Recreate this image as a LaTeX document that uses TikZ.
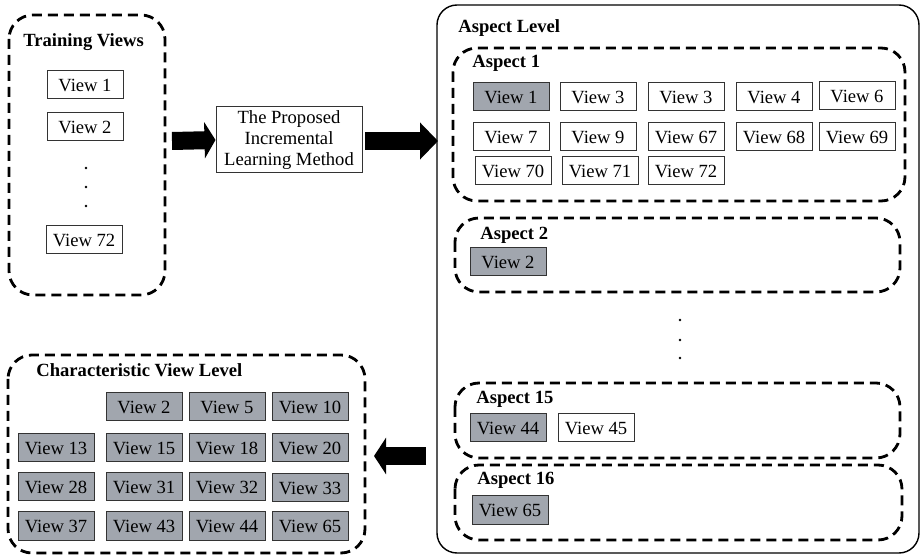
\documentclass[tikz,border=0pt]{standalone}
\usepackage{fontspec}
\setmainfont{Liberation Serif}
\usetikzlibrary{arrows.meta}
\definecolor{vgray}{RGB}{161,166,174}
\tikzset{
  vbox/.style={draw=black!80, line width=0.5pt, minimum width=38pt, minimum height=14pt, inner sep=0pt, font=\fontsize{9.3}{10.5}\selectfont},
  gbox/.style={vbox, fill=vgray},
  head/.style={anchor=base west, inner sep=0pt, font=\fontsize{9.3}{10.5}\selectfont\bfseries},
  dframe/.style={draw=black, line width=1.4pt, dash pattern=on 5pt off 3pt, rounded corners=12pt},
  sframe/.style={draw=black, line width=0.7pt, rounded corners=10pt},
  bigarrow/.style={line width=9pt, -{Triangle[width=18pt,length=#1]}},
  bigarrow/.default=6pt,
  dotmark/.style={fill=black}
}
\begin{document}
\begin{tikzpicture}[x=0.5pt, y=-0.5pt]
\useasboundingbox (0,0) rectangle (923,556);

% ---------- Training views ----------
\draw[dframe] (9,15) rectangle (165,295);
\node[head] (trh) at (23,47) {Training Views};
\node[vbox] (t1) at (85,85) {View 1};
\node[vbox] (t2) at (85,127) {View 2};
\fill[dotmark] (86,168) circle (0.7pt) (86,187) circle (0.7pt) (86,206) circle (0.7pt);
\node[vbox] (t72) at (84,240) {View 72};

% ---------- Method ----------
\node[draw=black!80, line width=0.5pt, minimum width=73pt, minimum height=33pt, inner sep=0pt, align=center, font=\fontsize{9.3}{10.5}\selectfont] (method) at (289,140) {The Proposed\\Incremental\\Learning Method};

% ---------- Aspect level ----------
\draw[sframe] (437,5) rectangle (919,553);
\node[head] (alh) at (458,33) {Aspect Level};

\draw[dframe] (453,48) rectangle (905,201);
\node[head] (a1h) at (472,68) {Aspect 1};
\node[gbox] (a1v1) at (511,97) {View 1};
\node[vbox] (a1v3) at (598,97) {View 3};
\node[vbox] (a1v3b) at (686,97) {View 3};
\node[vbox] (a1v4) at (774,97) {View 4};
\node[vbox] (a1v6) at (857,96) {View 6};
\node[vbox] (a1v7) at (511,137) {View 7};
\node[vbox] (a1v9) at (598,137) {View 9};
\node[vbox] (a1v67) at (686,137) {View 67};
\node[vbox] (a1v68) at (774,137) {View 68};
\node[vbox] (a1v69) at (857,137) {View 69};
\node[vbox] (a1v70) at (513,171) {View 70};
\node[vbox] (a1v71) at (600,171) {View 71};
\node[vbox] (a1v72) at (686,171) {View 72};

\draw[dframe] (455,218) rectangle (900,292);
\node[head] (a2h) at (480,240) {Aspect 2};
\node[gbox] (a2v2) at (508,262) {View 2};

\fill[dotmark] (680,320) circle (0.7pt) (680,340) circle (0.7pt) (680,358) circle (0.7pt);

\draw[dframe] (455,383) rectangle (900,458);
\node[head] (a15h) at (476,404) {Aspect 15};
\node[gbox] (a15v44) at (508,428) {View 44};
\node[vbox] (a15v45) at (596,428) {View 45};

\draw[dframe] (455,465) rectangle (902,540);
\node[head] (a16h) at (477,485) {Aspect 16};
\node[gbox] (a16v65) at (510,510) {View 65};

% ---------- Characteristic view level ----------
\draw[dframe] (8,355) rectangle (365,553);
\node[head] (cvh) at (36,377) {Characteristic View Level};
\node[gbox] (c2) at (144,407) {View 2};
\node[gbox] (c5) at (227,407) {View 5};
\node[gbox] (c10) at (310,407) {View 10};
\node[gbox] (c13) at (56,448) {View 13};
\node[gbox] (c15) at (144,448) {View 15};
\node[gbox] (c18) at (227,448) {View 18};
\node[gbox] (c20) at (310,448) {View 20};
\node[gbox] (c28) at (56,487) {View 28};
\node[gbox] (c31) at (144,487) {View 31};
\node[gbox] (c32) at (227,487) {View 32};
\node[gbox] (c33) at (310,488) {View 33};
\node[gbox] (c37) at (56,526) {View 37};
\node[gbox] (c43) at (144,526) {View 43};
\node[gbox] (c44) at (227,526) {View 44};
\node[gbox] (c65) at (310,526) {View 65};

% ---------- Arrows ----------
\coordinate (a1s) at (172,141);
\coordinate (a2s) at (365,141);
\coordinate (a2e) at (438,141);
\coordinate (a3s) at (426,456);
\coordinate (a3e) at (374,456);
\draw[bigarrow=5.5pt] (a1s) -- (method.west);
\draw[bigarrow=9pt] (a2s) -- (a2e);
\draw[bigarrow=6pt] (a3s) -- (a3e);
\end{tikzpicture}
\end{document}
